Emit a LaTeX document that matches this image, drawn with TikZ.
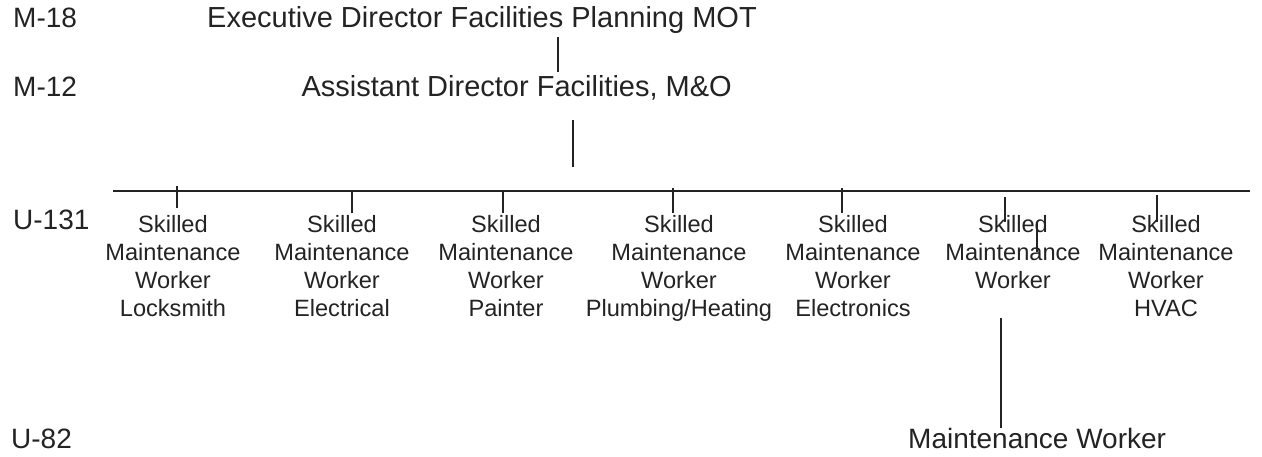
\documentclass[tikz,border=0pt]{standalone}
\usepackage{fontspec}
\setmainfont{Liberation Sans}
\definecolor{ink}{RGB}{35,35,35}
\begin{document}
\begin{tikzpicture}[x=1pt,y=-1pt,
  big/.style={font=\fontsize{29}{34}\selectfont, text=ink, inner sep=0pt},
  grade/.style={font=\fontsize{28}{33}\selectfont, text=ink, inner sep=0pt, anchor=base west},
  colbox/.style={font=\fontsize{23.6}{28}\selectfont, text=ink, inner sep=0pt, align=center, anchor=north},
  conn/.style={draw=ink, line width=1.4pt},
  busline/.style={draw=ink, line width=1.9pt}]
\useasboundingbox (0,0) rectangle (1262,457);
% grade labels
\node[grade] (m18) at (13,28) {M-18};
\node[grade] (m12) at (13,97) {M-12};
\node[grade] (u131) at (13,230) {U-131};
\node[grade] (u82) at (11,448) {U-82};
% positions
\node[big, anchor=base east] (exec) at (757,28) {Executive Director Facilities Planning MOT};
\node[big, anchor=base east] (asst) at (732,97) {Assistant Director Facilities, M\&O};
\node[colbox] (c1) at (173,215) {Skilled\\Maintenance\\Worker\\Locksmith};
\node[colbox] (c2) at (342,215) {Skilled\\Maintenance\\Worker\\Electrical};
\node[colbox] (c3) at (506,215) {Skilled\\Maintenance\\Worker\\Painter};
\node[colbox] (c4) at (679,215) {Skilled\\Maintenance\\Worker\\Plumbing/Heating};
\node[colbox] (c5) at (853,215) {Skilled\\Maintenance\\Worker\\Electronics};
\node[colbox] (c6) at (1013,215) {Skilled\\Maintenance\\Worker};
\node[colbox] (c7) at (1166,215) {Skilled\\Maintenance\\Worker\\HVAC};
\node[grade] (mw) at (908,448) {Maintenance Worker};
% connector points
\coordinate (e1) at (558,37);  \coordinate (e2) at (558,72);
\coordinate (a1) at (573,120); \coordinate (a2) at (573,167);
\coordinate (busL) at (113,191); \coordinate (busR) at (1250,191);
\coordinate (k1) at (177,186);  \coordinate (k1b) at (177,208);
\coordinate (k2) at (352,191);  \coordinate (k2b) at (352,213);
\coordinate (k3) at (503,190);  \coordinate (k3b) at (503,213);
\coordinate (k4) at (673,188);  \coordinate (k4b) at (673,213);
\coordinate (k5) at (842,188);  \coordinate (k5b) at (842,213);
\coordinate (k6) at (1005,197); \coordinate (k6b) at (1005,222);
\coordinate (x6) at (1037,223); \coordinate (x6b) at (1037,252);
\coordinate (k7) at (1157,195); \coordinate (k7b) at (1157,222);
\coordinate (w1) at (1001,318); \coordinate (w2) at (1001,428);
% connectors
\draw[conn] (e1) -- (e2);
\draw[conn] (a1) -- (a2);
\draw[busline] (busL) -- (busR);
\draw[conn] (k1) -- (k1b);
\draw[conn] (k2) -- (k2b);
\draw[conn] (k3) -- (k3b);
\draw[conn] (k4) -- (k4b);
\draw[conn] (k5) -- (k5b);
\draw[conn] (k6) -- (k6b);
\draw[conn] (x6) -- (x6b);
\draw[conn] (k7) -- (k7b);
\draw[conn] (w1) -- (w2);
\end{tikzpicture}
\end{document}
